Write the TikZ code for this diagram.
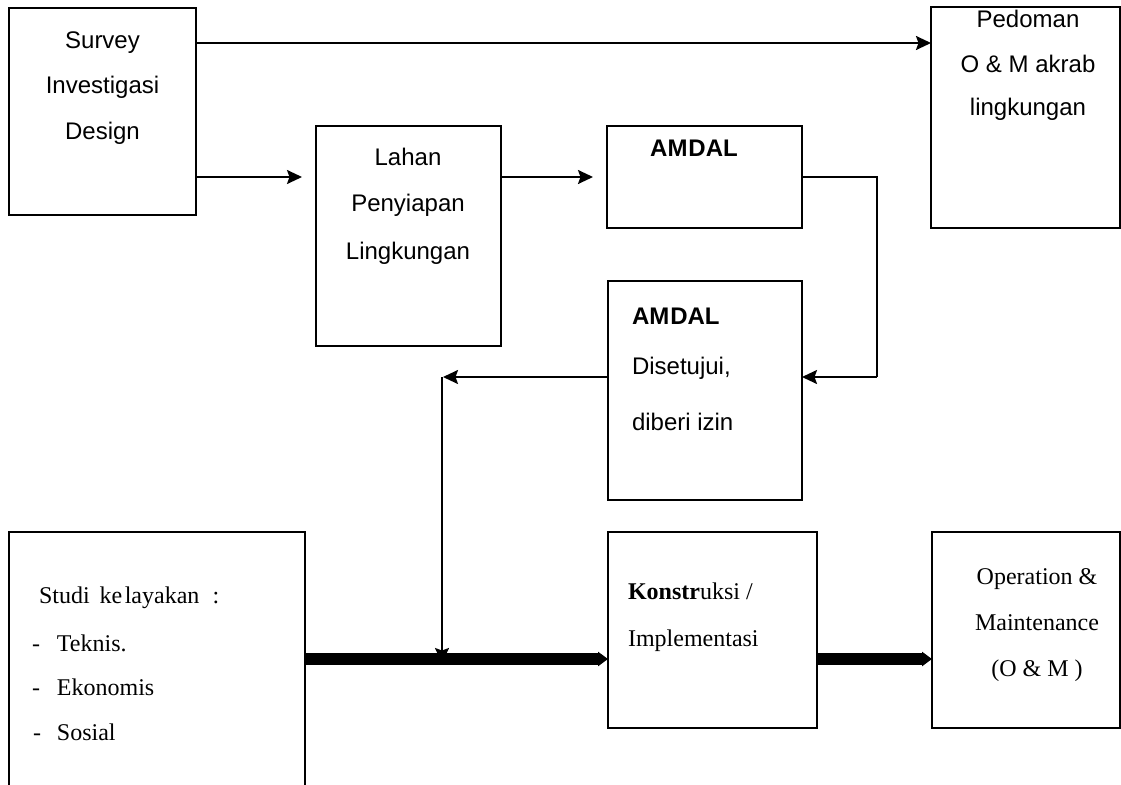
\documentclass[tikz,border=0pt]{standalone}
\usepackage{fontspec}
\setmainfont{Liberation Serif}
\newfontfamily\arialfont{Liberation Sans}
\usetikzlibrary{arrows.meta}
\begin{document}
\begin{tikzpicture}[x=1pt,y=-1pt,
  box/.style={draw, line width=2pt, inner sep=0pt, outer sep=0pt},
  sans/.style={font=\arialfont\fontsize{24}{28}\selectfont, inner sep=0pt, outer sep=0pt},
  serif/.style={font=\fontsize{24}{28}\selectfont, inner sep=0pt, outer sep=0pt},
  conn/.style={line width=2pt, -{Stealth[length=15pt,width=14pt,inset=2.5pt]}},
  link/.style={line width=1.8pt},
  bar/.style={line width=12pt, -{Triangle[length=10pt,width=14pt]}}
]
\useasboundingbox (0,0) rectangle (1121,784);

% boxes
\node[box, minimum width=187pt, minimum height=207pt] (survey)  at (102.5,111.5) {};
\node[box, minimum width=189pt, minimum height=221pt] (pedoman) at (1025.5,117.5) {};
\node[box, minimum width=185pt, minimum height=220pt] (lahan)   at (408.5,236) {};
\node[box, minimum width=195pt, minimum height=102pt] (amdalA)  at (704.5,177) {};
\node[box, minimum width=194pt, minimum height=219pt] (amdalB)  at (705,390.5) {};
\node[box, minimum width=296pt, minimum height=256pt] (studi)   at (157,660) {};
\node[box, minimum width=209pt, minimum height=196pt] (konst)   at (712.5,630) {};
\node[box, minimum width=188pt, minimum height=196pt] (om)      at (1026,630) {};

% texts
\node[sans, anchor=base] (sv1) at (102.5,48.3) {Survey};
\node[sans, anchor=base] (sv2) at (102.5,93.5) {Investigasi};
\node[sans, anchor=base] (sv3) at (102.5,139.3) {Design};

\node[sans, anchor=base] (pd1) at (1028,27.3) {Pedoman};
\node[sans, anchor=base] (pd2) at (1028,72.7) {O \& M akrab};
\node[sans, anchor=base] (pd3) at (1028,115.5) {lingkungan};

\node[sans, anchor=base] (lh1) at (408,165) {Lahan};
\node[sans, anchor=base] (lh2) at (408,211.7) {Penyiapan};
\node[sans, anchor=base] (lh3) at (408,259.3) {Lingkungan};

\node[sans, anchor=base, font=\arialfont\bfseries\fontsize{24}{28}\selectfont] (am1) at (694,156) {AM\kern1ptDAL};

\node[sans, anchor=base west, font=\arialfont\bfseries\fontsize{24}{28}\selectfont] (am2) at (632,324) {AM\kern1ptDAL};
\node[sans, anchor=base west] (am3) at (632,374) {Disetujui,};
\node[sans, anchor=base west] (am4) at (632,430) {diberi izin};

\node[serif, anchor=base west] (st1) at (39,603.3) {Studi\hspace{0.42em}ke\hspace{0.1em}layakan\hspace{0.55em}:};
\node[serif, anchor=base west] (st2) at (32,651.7) {\makebox[25pt][l]{-}Teknis.};
\node[serif, anchor=base west] (st3) at (32,695) {\makebox[25pt][l]{-}Ekonomis};
\node[serif, anchor=base west] (st4) at (33,740) {\makebox[24pt][l]{-}Sosial};

\node[serif, anchor=base west] (ks1) at (628,599.3) {\textbf{Konstr}uksi /};
\node[serif, anchor=base west] (ks2) at (628,646.7) {Implementasi};

\node[serif, anchor=base] (om1) at (1037,584) {Operation \&};
\node[serif, anchor=base] (om2) at (1037,630.7) {Maintenance};
\node[serif, anchor=base] (om3) at (1037,676.7) {(O \& M )};

% coordinates for free ends
\coordinate (t1) at (931,43);
\coordinate (t2) at (302,177);
\coordinate (t3) at (593,177);
\coordinate (r1) at (877,377);
\coordinate (j)  at (443,377);
\coordinate (jv) at (442,377);
\coordinate (jb) at (442,663);

% connectors
\draw[conn] (survey.east |- t1) -- (t1);
\draw[conn] (survey.east |- t2) -- (t2);
\draw[conn] (lahan.east |- t3) -- (t3);
\draw[link] (amdalA.east) -| (r1);
\draw[conn] (r1) -- (amdalB.east |- r1);
\draw[conn] (amdalB.west |- j) -- (j);
\draw[conn] (jv) -- (jb);

\draw[bar] (studi.east |- 0,659) -- (konst.west |- 0,659);
\draw[bar] (konst.east |- 0,659) -- (om.west |- 0,659);
\end{tikzpicture}
\end{document}
